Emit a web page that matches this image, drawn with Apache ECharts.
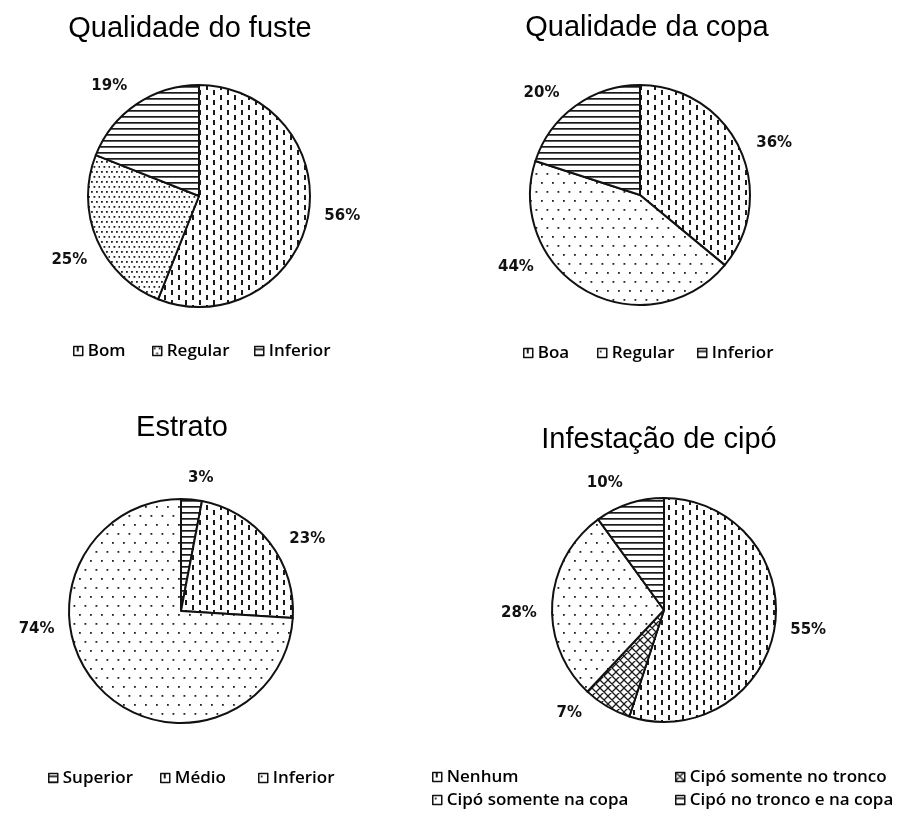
<!DOCTYPE html>
<html>
<head>
<meta charset="utf-8">
<script src="https://cdn.jsdelivr.net/npm/echarts@6/dist/echarts.min.js"></script>
<style>
  html, body { margin: 0; padding: 0; background: #fff; }
  #chart { width: 915px; height: 826px; }
</style>
</head>
<body>
<div id="chart"></div>
<script>
// ---- data ----
const titles = ['Qualidade do fuste', 'Qualidade da copa', 'Estrato', 'Infestação de cipó'];

const fusteCategories = ['Bom', 'Regular', 'Inferior'];
const fusteValues = [56, 25, 19];

const copaCategories = ['Boa', 'Regular', 'Inferior'];
const copaValues = [36, 44, 20];

const estratoCategories = ['Superior', 'Médio', 'Inferior'];
const estratoValues = [3, 23, 74];

const cipoCategories = ['Nenhum', 'Cipó somente no tronco', 'Cipó somente na copa', 'Cipó no tronco e na copa'];
const cipoValues = [55, 7, 28, 10];

// ---- hatch fills ----
function tile(w, h, draw) {
  const c = document.createElement('canvas');
  c.width = w; c.height = h;
  const g = c.getContext('2d');
  g.fillStyle = '#fff';
  g.fillRect(0, 0, w, h);
  g.fillStyle = '#1a1a1a';
  g.strokeStyle = '#1a1a1a';
  draw(g);
  return { image: c, repeat: 'repeat' };
}
const fillDashV = tile(14, 10, g => { g.fillRect(3, 0, 2, 5); g.fillRect(10, 5, 2, 5); });
const fillDotsDense = tile(10, 10, g => {
  g.fillStyle = '#222';
  [[1, 1], [6, 1], [3.5, 6], [8.5, 6]].forEach(p => g.fillRect(p[0], p[1], 1.8, 1.8));
});
const fillDots = tile(11, 18, g => {
  g.fillStyle = '#222';
  [[2, 2], [7.5, 11]].forEach(p => g.fillRect(p[0], p[1], 1.8, 1.8));
});
const fillLinesH = tile(8, 6, g => { g.fillRect(0, 2, 8, 1.7); });
const fillCross = tile(8, 8, g => {
  g.lineWidth = 1.3;
  g.beginPath();
  for (let k = -8; k <= 8; k += 8) {
    g.moveTo(k, 0); g.lineTo(k + 8, 8);
    g.moveTo(k, 8); g.lineTo(k + 8, 0);
  }
  g.stroke();
});

// ---- layout of the four pies ----
const pies = [
  { cats: fusteCategories, vals: fusteValues, fills: [fillDashV, fillDotsDense, fillLinesH],
    center: [199, 196], r: 111, title: [190, 14], turn: [-3, -3, -5],
    legend: [[73, 351], [152, 351], [254, 351]] },
  { cats: copaCategories, vals: copaValues, fills: [fillDashV, fillDots, fillLinesH],
    center: [640, 195], r: 110, title: [647, 13], turn: [4, 31, -8],
    legend: [[523, 353], [597, 353], [697, 353]] },
  { cats: estratoCategories, vals: estratoValues, fills: [fillLinesH, fillDashV, fillDots],
    center: [181, 611], r: 112, title: [182, 413], turn: [3, 8, 36],
    legend: [[48, 778], [160, 778], [258, 778]] },
  { cats: cipoCategories, vals: cipoValues, fills: [fillDashV, fillCross, fillDots, fillLinesH],
    center: [664, 610], r: 112, title: [659, 425], turn: [-1, 12, -5, -7],
    legend: [[432, 777], [675, 777], [432, 800], [675, 800]] }
];

const labelFont = { fontFamily: 'DejaVu Sans', fontWeight: 'bold', fontSize: 15, color: '#111' };
const LABEL_GAP = 15;

const title = pies.map((p, i) => ({
  text: titles[i],
  left: p.title[0], top: p.title[1], textAlign: 'center', padding: 0,
  textStyle: { fontFamily: 'Liberation Sans', fontWeight: 'normal', fontSize: 29, lineHeight: 29, color: '#000' }
}));

const legend = [];
pies.forEach(p => {
  p.cats.forEach((name, j) => {
    legend.push({
      left: p.legend[j][0], top: p.legend[j][1] - 10, padding: 0,
      icon: 'rect', itemWidth: 9, itemHeight: 9, selectedMode: false,
      itemStyle: { borderColor: '#111', borderWidth: 1.5 },
      textStyle: { fontFamily: 'Open Sans', fontWeight: 600, fontSize: 17, lineHeight: 20, color: '#000' },
      data: [{ name: name, itemStyle: { color: p.fills[j] } }]
    });
  });
});

function labelLayoutFor(p) {
  const total = p.vals.reduce((a, b) => a + b, 0);
  return params => {
    const j = params.dataIndex;
    let before = 0;
    for (let k = 0; k < j; k++) before += p.vals[k];
    const deg = (before + p.vals[j] / 2) / total * 360 + p.turn[j];
    const a = deg * Math.PI / 180;
    const ux = Math.sin(a), uy = -Math.cos(a);
    const hw = params.labelRect.width / 2, hh = labelFont.fontSize * 0.4;
    const d = p.r + LABEL_GAP + Math.abs(ux) * hw + Math.abs(uy) * hh;
    return { x: p.center[0] + d * ux, y: p.center[1] + d * uy, align: 'center', verticalAlign: 'middle' };
  };
}

const series = pies.map(p => ({
  type: 'pie',
  center: p.center,
  radius: p.r,
  startAngle: 90,
  clockwise: true,
  avoidLabelOverlap: false,
  animation: false,
  emphasis: { disabled: true },
  itemStyle: { borderColor: '#111', borderWidth: 2 },
  label: Object.assign({ show: true, position: 'outside', formatter: '{c}%' }, labelFont),
  labelLine: { show: false, length: 0, length2: 0 },
  labelLayout: labelLayoutFor(p),
  data: p.cats.map((name, j) => ({ name: name, value: p.vals[j], itemStyle: { color: p.fills[j] } }))
}));

const chart = echarts.init(document.getElementById('chart'), null, { renderer: 'canvas' });
chart.setOption({ backgroundColor: '#fff', animation: false, title, legend, series });
</script>
</body>
</html>
